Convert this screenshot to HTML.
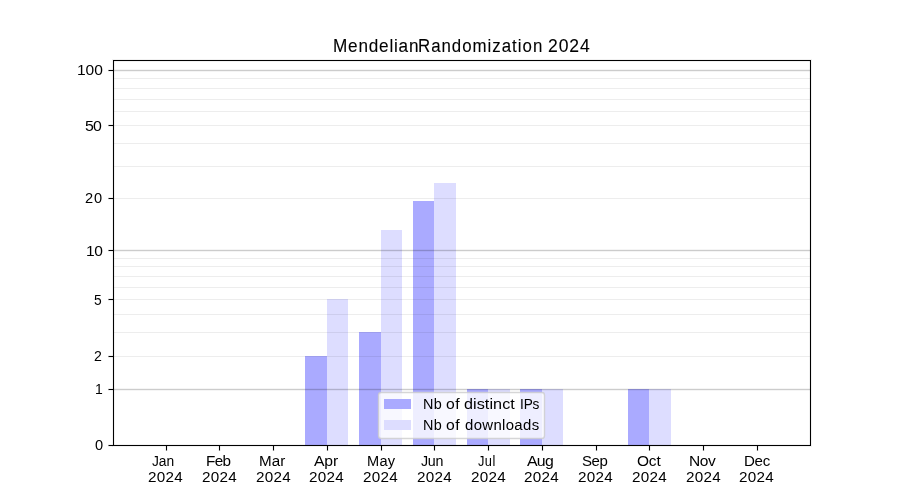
<!DOCTYPE html>
<html lang="en">
<head>
<meta charset="utf-8">
<title>MendelianRandomization 2024</title>
<style>
html,body{margin:0;padding:0;background:#ffffff;}
#fig{position:relative;width:900px;height:500px;overflow:hidden;background:#ffffff;font-family:"Liberation Sans",sans-serif;color:#000000;}
#plot{position:absolute;left:0;top:0;display:block;}
#labels{position:absolute;left:0;top:0;width:900px;height:500px;will-change:transform;filter:grayscale(1);}
.t{position:absolute;display:block;white-space:pre;line-height:1;transform-origin:0 0;margin:0;padding:0;}
.title{-webkit-text-stroke:0.1px #000000;}
</style>
</head>
<body>
<div id="fig">
<svg id="plot" width="900" height="500" viewBox="0 0 900 500" shape-rendering="crispEdges">
<g id="bars">
<rect x="305" y="356" width="22" height="89" fill="#aaaaff"/>
<rect x="327" y="299" width="21" height="146" fill="#ddddff"/>
<rect x="359" y="332" width="22" height="113" fill="#aaaaff"/>
<rect x="381" y="230" width="21" height="215" fill="#ddddff"/>
<rect x="413" y="201" width="21" height="244" fill="#aaaaff"/>
<rect x="434" y="183" width="22" height="262" fill="#ddddff"/>
<rect x="467" y="389" width="21" height="56" fill="#aaaaff"/>
<rect x="488" y="389" width="22" height="56" fill="#ddddff"/>
<rect x="520" y="389" width="22" height="56" fill="#aaaaff"/>
<rect x="542" y="389" width="21" height="56" fill="#ddddff"/>
<rect x="628" y="389" width="21" height="56" fill="#aaaaff"/>
<rect x="649" y="389" width="22" height="56" fill="#ddddff"/>
</g>
<g id="grid">
<rect x="114" y="69" width="696" height="1" fill="rgba(0,0,0,0.04)"/>
<rect x="114" y="70" width="696" height="1" fill="rgba(0,0,0,0.2)"/>
<rect x="114" y="71" width="696" height="1" fill="rgba(0,0,0,0.04)"/>
<rect x="114" y="249" width="696" height="1" fill="rgba(0,0,0,0.04)"/>
<rect x="114" y="250" width="696" height="1" fill="rgba(0,0,0,0.2)"/>
<rect x="114" y="251" width="696" height="1" fill="rgba(0,0,0,0.04)"/>
<rect x="114" y="388" width="696" height="1" fill="rgba(0,0,0,0.04)"/>
<rect x="114" y="389" width="696" height="1" fill="rgba(0,0,0,0.2)"/>
<rect x="114" y="390" width="696" height="1" fill="rgba(0,0,0,0.04)"/>
<rect x="114" y="78" width="696" height="1" fill="rgba(0,0,0,0.07)"/>
<rect x="114" y="88" width="696" height="1" fill="rgba(0,0,0,0.07)"/>
<rect x="114" y="99" width="696" height="1" fill="rgba(0,0,0,0.07)"/>
<rect x="114" y="111" width="696" height="1" fill="rgba(0,0,0,0.07)"/>
<rect x="114" y="125" width="696" height="1" fill="rgba(0,0,0,0.07)"/>
<rect x="114" y="143" width="696" height="1" fill="rgba(0,0,0,0.07)"/>
<rect x="114" y="166" width="696" height="1" fill="rgba(0,0,0,0.07)"/>
<rect x="114" y="198" width="696" height="1" fill="rgba(0,0,0,0.07)"/>
<rect x="114" y="258" width="696" height="1" fill="rgba(0,0,0,0.07)"/>
<rect x="114" y="266" width="696" height="1" fill="rgba(0,0,0,0.07)"/>
<rect x="114" y="276" width="696" height="1" fill="rgba(0,0,0,0.07)"/>
<rect x="114" y="287" width="696" height="1" fill="rgba(0,0,0,0.07)"/>
<rect x="114" y="299" width="696" height="1" fill="rgba(0,0,0,0.07)"/>
<rect x="114" y="314" width="696" height="1" fill="rgba(0,0,0,0.07)"/>
<rect x="114" y="332" width="696" height="1" fill="rgba(0,0,0,0.07)"/>
<rect x="114" y="356" width="696" height="1" fill="rgba(0,0,0,0.07)"/>
</g>
<g id="legend" shape-rendering="auto">
<rect x="378.5" y="392.5" width="166" height="46" rx="2.8" ry="2.8" fill="rgba(255,255,255,0.8)" stroke="rgba(204,204,204,0.8)" stroke-width="1.39"/>
</g>
<rect x="384" y="399" width="27" height="10" fill="#aaaaff"/><rect x="411" y="399" width="1" height="10" fill="rgba(170,170,255,0.0)"/>
<rect x="384" y="420" width="27" height="10" fill="#ddddff"/>
<g id="axes">
<rect x="112" y="59" width="700" height="1" fill="rgba(0,0,0,0.055)"/>
<rect x="114" y="61" width="696" height="1" fill="rgba(0,0,0,0.055)"/>
<rect x="112" y="446" width="700" height="1" fill="rgba(0,0,0,0.055)"/>
<rect x="114" y="444" width="696" height="1" fill="rgba(0,0,0,0.055)"/>
<rect x="112" y="60" width="1" height="386" fill="rgba(0,0,0,0.055)"/>
<rect x="114" y="61" width="1" height="384" fill="rgba(0,0,0,0.055)"/>
<rect x="811" y="60" width="1" height="386" fill="rgba(0,0,0,0.055)"/>
<rect x="809" y="61" width="1" height="384" fill="rgba(0,0,0,0.055)"/>
<rect x="113" y="60" width="698" height="1" fill="#000"/>
<rect x="113" y="445" width="698" height="1" fill="#000"/>
<rect x="113" y="60" width="1" height="386" fill="#000"/>
<rect x="810" y="60" width="1" height="386" fill="#000"/>
<rect x="109" y="70" width="4" height="1" fill="#000"/>
<rect x="108" y="70" width="1" height="1" fill="rgba(0,0,0,0.5)"/>
<rect x="108" y="69" width="5" height="1" fill="rgba(0,0,0,0.055)"/>
<rect x="108" y="71" width="5" height="1" fill="rgba(0,0,0,0.055)"/>
<rect x="109" y="125" width="4" height="1" fill="#000"/>
<rect x="108" y="125" width="1" height="1" fill="rgba(0,0,0,0.5)"/>
<rect x="108" y="124" width="5" height="1" fill="rgba(0,0,0,0.055)"/>
<rect x="108" y="126" width="5" height="1" fill="rgba(0,0,0,0.055)"/>
<rect x="109" y="198" width="4" height="1" fill="#000"/>
<rect x="108" y="198" width="1" height="1" fill="rgba(0,0,0,0.5)"/>
<rect x="108" y="197" width="5" height="1" fill="rgba(0,0,0,0.055)"/>
<rect x="108" y="199" width="5" height="1" fill="rgba(0,0,0,0.055)"/>
<rect x="109" y="250" width="4" height="1" fill="#000"/>
<rect x="108" y="250" width="1" height="1" fill="rgba(0,0,0,0.5)"/>
<rect x="108" y="249" width="5" height="1" fill="rgba(0,0,0,0.055)"/>
<rect x="108" y="251" width="5" height="1" fill="rgba(0,0,0,0.055)"/>
<rect x="109" y="299" width="4" height="1" fill="#000"/>
<rect x="108" y="299" width="1" height="1" fill="rgba(0,0,0,0.5)"/>
<rect x="108" y="298" width="5" height="1" fill="rgba(0,0,0,0.055)"/>
<rect x="108" y="300" width="5" height="1" fill="rgba(0,0,0,0.055)"/>
<rect x="109" y="356" width="4" height="1" fill="#000"/>
<rect x="108" y="356" width="1" height="1" fill="rgba(0,0,0,0.5)"/>
<rect x="108" y="355" width="5" height="1" fill="rgba(0,0,0,0.055)"/>
<rect x="108" y="357" width="5" height="1" fill="rgba(0,0,0,0.055)"/>
<rect x="109" y="389" width="4" height="1" fill="#000"/>
<rect x="108" y="389" width="1" height="1" fill="rgba(0,0,0,0.5)"/>
<rect x="108" y="388" width="5" height="1" fill="rgba(0,0,0,0.055)"/>
<rect x="108" y="390" width="5" height="1" fill="rgba(0,0,0,0.055)"/>
<rect x="109" y="445" width="4" height="1" fill="#000"/>
<rect x="108" y="445" width="1" height="1" fill="rgba(0,0,0,0.5)"/>
<rect x="108" y="444" width="5" height="1" fill="rgba(0,0,0,0.055)"/>
<rect x="108" y="446" width="5" height="1" fill="rgba(0,0,0,0.055)"/>
<rect x="166" y="446" width="1" height="4" fill="#000"/>
<rect x="166" y="450" width="1" height="1" fill="rgba(0,0,0,0.5)"/>
<rect x="165" y="446" width="1" height="5" fill="rgba(0,0,0,0.055)"/>
<rect x="167" y="446" width="1" height="5" fill="rgba(0,0,0,0.055)"/>
<rect x="219" y="446" width="1" height="4" fill="#000"/>
<rect x="219" y="450" width="1" height="1" fill="rgba(0,0,0,0.5)"/>
<rect x="218" y="446" width="1" height="5" fill="rgba(0,0,0,0.055)"/>
<rect x="220" y="446" width="1" height="5" fill="rgba(0,0,0,0.055)"/>
<rect x="273" y="446" width="1" height="4" fill="#000"/>
<rect x="273" y="450" width="1" height="1" fill="rgba(0,0,0,0.5)"/>
<rect x="272" y="446" width="1" height="5" fill="rgba(0,0,0,0.055)"/>
<rect x="274" y="446" width="1" height="5" fill="rgba(0,0,0,0.055)"/>
<rect x="327" y="446" width="1" height="4" fill="#000"/>
<rect x="327" y="450" width="1" height="1" fill="rgba(0,0,0,0.5)"/>
<rect x="326" y="446" width="1" height="5" fill="rgba(0,0,0,0.055)"/>
<rect x="328" y="446" width="1" height="5" fill="rgba(0,0,0,0.055)"/>
<rect x="381" y="446" width="1" height="4" fill="#000"/>
<rect x="381" y="450" width="1" height="1" fill="rgba(0,0,0,0.5)"/>
<rect x="380" y="446" width="1" height="5" fill="rgba(0,0,0,0.055)"/>
<rect x="382" y="446" width="1" height="5" fill="rgba(0,0,0,0.055)"/>
<rect x="434" y="446" width="1" height="4" fill="#000"/>
<rect x="434" y="450" width="1" height="1" fill="rgba(0,0,0,0.5)"/>
<rect x="433" y="446" width="1" height="5" fill="rgba(0,0,0,0.055)"/>
<rect x="435" y="446" width="1" height="5" fill="rgba(0,0,0,0.055)"/>
<rect x="488" y="446" width="1" height="4" fill="#000"/>
<rect x="488" y="450" width="1" height="1" fill="rgba(0,0,0,0.5)"/>
<rect x="487" y="446" width="1" height="5" fill="rgba(0,0,0,0.055)"/>
<rect x="489" y="446" width="1" height="5" fill="rgba(0,0,0,0.055)"/>
<rect x="542" y="446" width="1" height="4" fill="#000"/>
<rect x="542" y="450" width="1" height="1" fill="rgba(0,0,0,0.5)"/>
<rect x="541" y="446" width="1" height="5" fill="rgba(0,0,0,0.055)"/>
<rect x="543" y="446" width="1" height="5" fill="rgba(0,0,0,0.055)"/>
<rect x="596" y="446" width="1" height="4" fill="#000"/>
<rect x="596" y="450" width="1" height="1" fill="rgba(0,0,0,0.5)"/>
<rect x="595" y="446" width="1" height="5" fill="rgba(0,0,0,0.055)"/>
<rect x="597" y="446" width="1" height="5" fill="rgba(0,0,0,0.055)"/>
<rect x="649" y="446" width="1" height="4" fill="#000"/>
<rect x="649" y="450" width="1" height="1" fill="rgba(0,0,0,0.5)"/>
<rect x="648" y="446" width="1" height="5" fill="rgba(0,0,0,0.055)"/>
<rect x="650" y="446" width="1" height="5" fill="rgba(0,0,0,0.055)"/>
<rect x="703" y="446" width="1" height="4" fill="#000"/>
<rect x="703" y="450" width="1" height="1" fill="rgba(0,0,0,0.5)"/>
<rect x="702" y="446" width="1" height="5" fill="rgba(0,0,0,0.055)"/>
<rect x="704" y="446" width="1" height="5" fill="rgba(0,0,0,0.055)"/>
<rect x="757" y="446" width="1" height="4" fill="#000"/>
<rect x="757" y="450" width="1" height="1" fill="rgba(0,0,0,0.5)"/>
<rect x="756" y="446" width="1" height="5" fill="rgba(0,0,0,0.055)"/>
<rect x="758" y="446" width="1" height="5" fill="rgba(0,0,0,0.055)"/>
</g>
</svg>
<div id="labels">
<div id="title" class="grp"><span class="t title" id="t1" style="left:332.54px;top:37.97px;font-size:17.67px;letter-spacing:0.818px;transform:scaleX(0.9713)">Mendelian</span><span class="t title" id="t2" style="left:417.64px;top:37.97px;font-size:17.67px;letter-spacing:1.041px;transform:scaleX(0.9538)">Randomization </span><span class="t title" id="t3" style="left:548.11px;top:37.97px;font-size:17.67px;letter-spacing:0.884px;transform:scaleX(0.9929)">2024</span></div>
<span class="t yl" id="y100" style="left:76.78px;top:63.00px;font-size:14.72px;letter-spacing:-0.058px;transform:scaleX(1.0576)">100</span>
<span class="t yl" id="y50" style="left:84.62px;top:119.00px;font-size:14.72px;letter-spacing:-0.683px;transform:scaleX(1.0792)">50</span>
<span class="t yl" id="y20" style="left:85.00px;top:191.00px;font-size:14.72px;letter-spacing:0.786px;transform:scaleX(0.9929)">20</span>
<span class="t yl" id="y10" style="left:85.70px;top:244.00px;font-size:14.72px;letter-spacing:-0.284px;transform:scaleX(1.0576)">10</span>
<span class="t yl" id="y5" style="left:93.67px;top:293.00px;font-size:14.72px;transform:scaleX(0.9385)">5</span>
<span class="t yl" id="y2" style="left:93.58px;top:349.00px;font-size:14.72px;transform:scaleX(0.9586)">2</span>
<span class="t yl" id="y1" style="left:94.67px;top:382.00px;font-size:14.72px;transform:scaleX(0.9498)">1</span>
<span class="t yl" id="y0" style="left:95.03px;top:438.00px;font-size:14.72px;transform:scaleX(0.9945)">0</span>
<span class="t xl" id="mJan" style="left:152.16px;top:454.06px;font-size:14.72px;letter-spacing:-0.109px;transform:scaleX(0.9380)">Jan</span>
<span class="t xl" id="yrJan" style="left:147.88px;top:470.06px;font-size:14.72px;letter-spacing:0.267px;transform:scaleX(1.0361)">2024</span>
<span class="t xl" id="mFeb" style="left:205.87px;top:454.06px;font-size:14.72px;letter-spacing:-0.596px;transform:scaleX(1.0392)">Feb</span>
<span class="t xl" id="yrFeb" style="left:201.61px;top:470.06px;font-size:14.72px;letter-spacing:0.267px;transform:scaleX(1.0361)">2024</span>
<span class="t xl" id="mMar" style="left:259.18px;top:454.06px;font-size:14.72px;letter-spacing:0.067px;transform:scaleX(1.0335)">Mar</span>
<span class="t xl" id="yrMar" style="left:255.75px;top:470.06px;font-size:14.72px;letter-spacing:0.267px;transform:scaleX(1.0361)">2024</span>
<span class="t xl" id="mApr" style="left:314.22px;top:454.06px;font-size:14.72px;letter-spacing:-0.139px;transform:scaleX(1.0698)">Apr</span>
<span class="t xl" id="yrApr" style="left:308.74px;top:470.06px;font-size:14.72px;letter-spacing:0.267px;transform:scaleX(1.0361)">2024</span>
<span class="t xl" id="mMay" style="left:366.85px;top:454.06px;font-size:14.72px;letter-spacing:0.301px;transform:scaleX(0.9911)">May</span>
<span class="t xl" id="yrMay" style="left:363.07px;top:470.06px;font-size:14.72px;letter-spacing:0.267px;transform:scaleX(1.0361)">2024</span>
<span class="t xl" id="mJun" style="left:421.34px;top:454.06px;font-size:14.72px;letter-spacing:-0.316px;transform:scaleX(0.9691)">Jun</span>
<span class="t xl" id="yrJun" style="left:417.36px;top:470.06px;font-size:14.72px;letter-spacing:0.267px;transform:scaleX(1.0361)">2024</span>
<span class="t xl" id="mJul" style="left:477.82px;top:454.06px;font-size:14.72px;letter-spacing:0.465px;transform:scaleX(0.8726)">Jul</span>
<span class="t xl" id="yrJul" style="left:470.70px;top:470.06px;font-size:14.72px;letter-spacing:0.267px;transform:scaleX(1.0361)">2024</span>
<span class="t xl" id="mAug" style="left:526.97px;top:454.06px;font-size:14.72px;letter-spacing:-0.651px;transform:scaleX(1.0767)">Aug</span>
<span class="t xl" id="yrAug" style="left:524.03px;top:470.06px;font-size:14.72px;letter-spacing:0.267px;transform:scaleX(1.0361)">2024</span>
<span class="t xl" id="mSep" style="left:581.74px;top:454.06px;font-size:14.72px;letter-spacing:-0.435px;transform:scaleX(1.0193)">Sep</span>
<span class="t xl" id="yrSep" style="left:577.67px;top:470.06px;font-size:14.72px;letter-spacing:0.267px;transform:scaleX(1.0361)">2024</span>
<span class="t xl" id="mOct" style="left:637.37px;top:454.06px;font-size:14.72px;letter-spacing:-0.128px;transform:scaleX(1.0485)">Oct</span>
<span class="t xl" id="yrOct" style="left:631.51px;top:470.06px;font-size:14.72px;letter-spacing:0.267px;transform:scaleX(1.0361)">2024</span>
<span class="t xl" id="mNov" style="left:688.60px;top:454.06px;font-size:14.72px;letter-spacing:-0.469px;transform:scaleX(1.0561)">Nov</span>
<span class="t xl" id="yrNov" style="left:685.64px;top:470.06px;font-size:14.72px;letter-spacing:0.267px;transform:scaleX(1.0361)">2024</span>
<span class="t xl" id="mDec" style="left:743.74px;top:454.06px;font-size:14.72px;letter-spacing:-0.285px;transform:scaleX(1.0265)">Dec</span>
<span class="t xl" id="yrDec" style="left:738.98px;top:470.06px;font-size:14.72px;letter-spacing:0.267px;transform:scaleX(1.0361)">2024</span>
<div id="lg1" class="grp"><span class="t lg" id="lg1w0" style="left:422.82px;top:397.06px;font-size:14.72px;letter-spacing:0.444px;transform:scaleX(0.9797)">Nb </span><span class="t lg" id="lg1w1" style="left:445.96px;top:397.06px;font-size:14.72px;letter-spacing:0.378px;transform:scaleX(1.0685)">of </span><span class="t lg" id="lg1w2" style="left:463.75px;top:397.06px;font-size:14.72px;letter-spacing:0.052px;transform:scaleX(1.1000)">distinct </span><span class="t lg" id="lg1w3" style="left:519.68px;top:397.06px;font-size:14.72px;letter-spacing:-0.156px;transform:scaleX(0.9265)">IPs</span></div>
<div id="lg2" class="grp"><span class="t lg" id="lg2w0" style="left:422.82px;top:418.06px;font-size:14.72px;letter-spacing:0.444px;transform:scaleX(0.9797)">Nb </span><span class="t lg" id="lg2w1" style="left:445.96px;top:418.06px;font-size:14.72px;letter-spacing:0.378px;transform:scaleX(1.0685)">of </span><span class="t lg" id="lg2w2" style="left:465.10px;top:418.06px;font-size:14.72px;letter-spacing:0.333px;transform:scaleX(1.0146)">downloads</span></div>
</div>
</div>
</body>
</html>
